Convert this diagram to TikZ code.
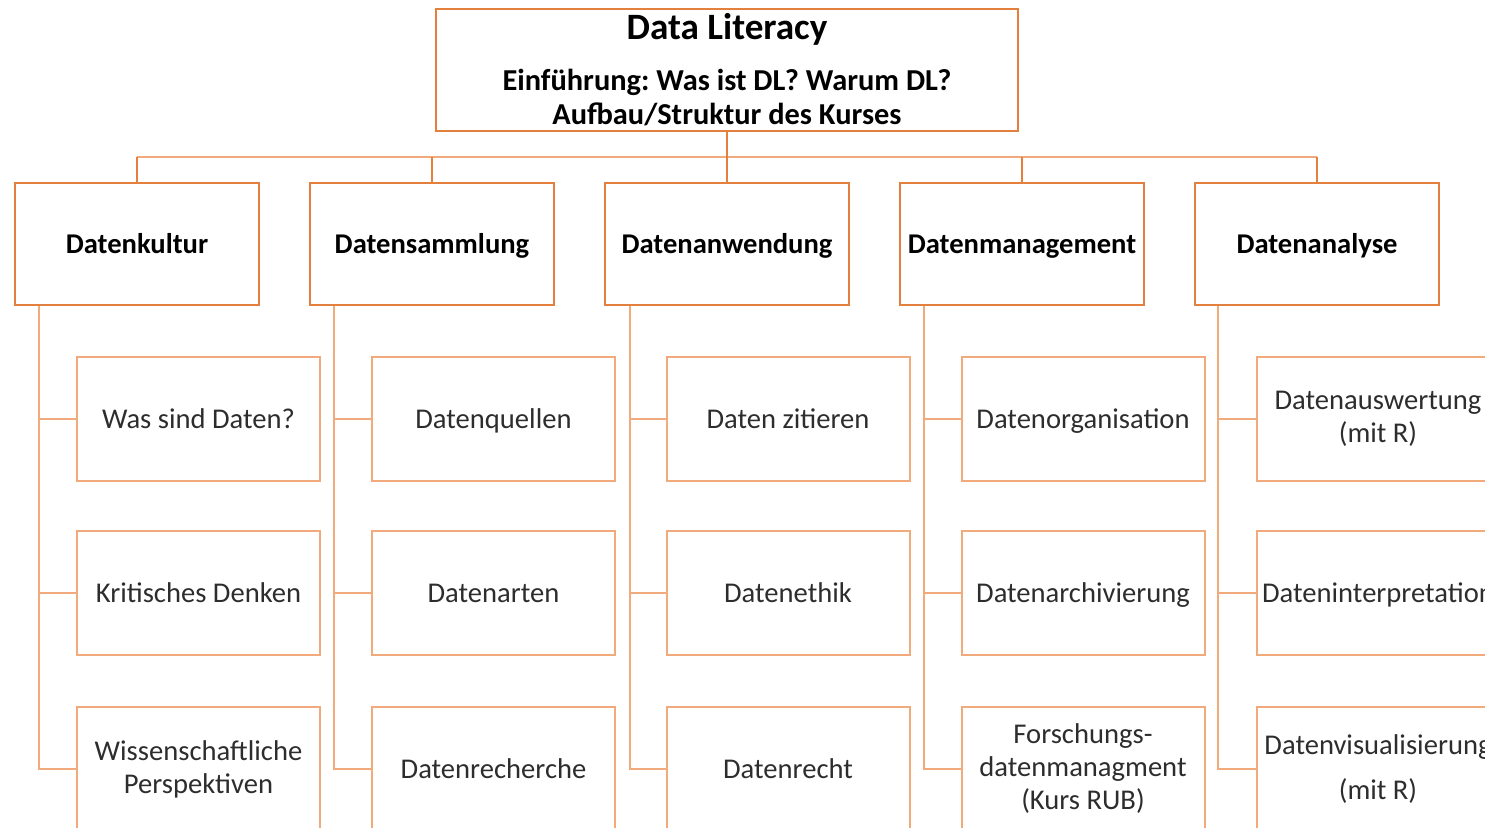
\documentclass[tikz,border=0pt]{standalone}
\usepackage{fontspec}
\setmainfont{Carlito}
\frenchspacing
\definecolor{dk}{RGB}{228,128,62}
\definecolor{lt}{RGB}{240,170,124}
\definecolor{txt}{RGB}{45,45,45}
\begin{document}
\begin{tikzpicture}[x=0.5pt,y=-0.5pt,
  topbox/.style={draw=dk,line width=1pt,minimum width=291pt,minimum height=61pt,inner sep=0pt},
  catbox/.style={draw=dk,line width=1pt,minimum width=122pt,minimum height=61pt,inner xsep=0pt,
    font=\fontsize{14.3}{17}\selectfont\bfseries,text=black,text height=0.95em,text depth=0pt},
  subbox/.style={draw=lt,line width=1pt,minimum width=121.5pt,minimum height=62pt,inner xsep=0pt,
    align=center,font=\fontsize{14.3}{16.5}\selectfont,text=txt},
  one/.style={text height=0.95em,text depth=0pt},
  bus/.style={draw=lt,line width=1pt},
  stub/.style={draw=dk,line width=1pt},
  spine/.style={draw=lt,line width=1pt}]
\useasboundingbox (0,0) rectangle (1485,828);
\clip (0,0) rectangle (1485,828);
% top
\node[topbox] (top) at (727,70) {};
\node[anchor=base,font=\fontsize{18.6}{22}\selectfont\bfseries] (title) at (727,40) {Data Literacy};
\node[anchor=base,font=\fontsize{15.2}{18}\selectfont\bfseries\frenchspacing] (intro1) at (727,91) {Einführung: Was ist DL? Warum DL?};
\node[anchor=base,font=\fontsize{15.2}{18}\selectfont\bfseries] (intro2) at (727,125) {Aufbau/Struktur des Kurses};
% categories
\node[catbox] (c1) at (137,244) {Datenkultur};
\node[catbox] (c2) at (432,244) {Datensammlung};
\node[catbox] (c3) at (727,244) {Datenanwendung};
\node[catbox] (c4) at (1022,244) {Datenmanagement};
\node[catbox] (c5) at (1317,244) {Datenanalyse};
% bus
\coordinate (busL) at (137,157);
\coordinate (busR) at (1317,157);
\draw[bus] (busL) -- (busR);
\draw[stub] (top.south) -- (top.south |- busL);
\foreach \c in {c1,c2,c4,c5} \draw[stub] (\c.north) -- (\c.north |- busL);
\draw[stub] (top.south |- busL) -- (c3.north);
% subs
\node[subbox,one] (s11) at (198.5,419) {Was sind Daten?};
\node[subbox,one] (s12) at (198.5,593.5) {Kritisches Denken};
\node[subbox] (s13) at (198.5,769) {Wissenschaftliche\\Perspektiven};
\node[subbox,one] (s21) at (493.5,419) {Datenquellen};
\node[subbox,one] (s22) at (493.5,593.5) {Datenarten};
\node[subbox,one] (s23) at (493.5,769) {Datenrecherche};
\node[subbox,one] (s31) at (788,419) {Daten zitieren};
\node[subbox,one] (s32) at (788,593.5) {Datenethik};
\node[subbox,one] (s33) at (788,769) {Datenrecht};
\node[subbox,one] (s41) at (1083,419) {Datenorganisation};
\node[subbox,one] (s42) at (1083,593.5) {Datenarchivierung};
\node[subbox] (s43) at (1083,769) {Forschungs-\\datenmanagment\\(Kurs RUB)};
\node[subbox] (s51) at (1378,419) {Datenauswertung\\(mit R)};
\node[subbox,one] (s52) at (1378,593.5) {Dateninterpretation};
\node[subbox] (s53) at (1378,769) {Datenvisualisierung\\[6pt](mit R)};
% spines
\foreach \i/\dx in {1/25,2/25,3/26,4/25,5/24}{
  \coordinate (sp\i) at ([xshift=\dx*0.5pt]c\i.south west);
  \draw[spine] (sp\i) |- (s\i3.west);
  \draw[spine] (sp\i |- s\i1.west) -- (s\i1.west);
  \draw[spine] (sp\i |- s\i2.west) -- (s\i2.west);
}
\end{tikzpicture}
\end{document}
